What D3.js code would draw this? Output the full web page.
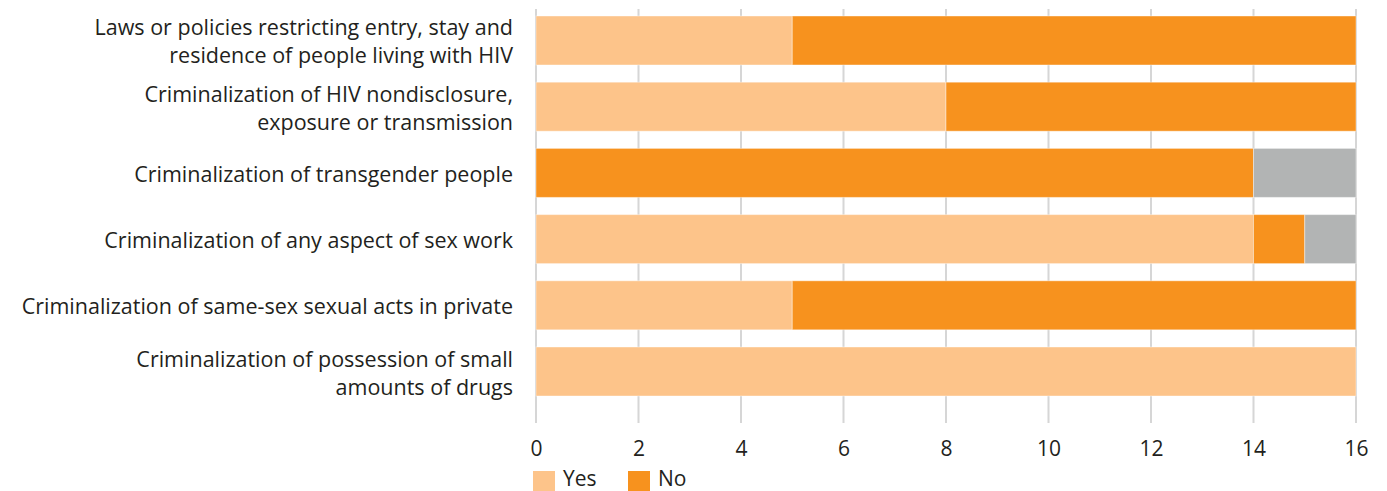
<!DOCTYPE html>
<html>
<head>
    <style>
        body { margin: 0; background: #fff; }
        text { font-family: "Open Sans", "Noto Sans", sans-serif; fill: #231f20; }
        .label { font-size: 21.5px; text-anchor: end; }
        .legend text { font-size: 21px; }
    </style>
    <script src="https://d3js.org/d3.v7.min.js"></script>
</head>
<body>
    <svg width="1387" height="491"></svg>
    <script>
        // chart data
        var categories = [
            ["Laws or policies restricting entry, stay and", "residence of people living with HIV"],
            ["Criminalization of HIV nondisclosure,", "exposure or transmission"],
            ["Criminalization of transgender people"],
            ["Criminalization of any aspect of sex work"],
            ["Criminalization of same-sex sexual acts in private"],
            ["Criminalization of possession of small", "amounts of drugs"]
        ];
        var yesValues = [5, 8, 0, 14, 5, 16];
        var noValues = [11, 8, 14, 1, 11, 0];
        var otherValues = [0, 0, 2, 1, 0, 0];
        var xTicks = [0, 2, 4, 6, 8, 10, 12, 14, 16];
        var legendLabels = ["Yes", "No"];

        var colors = ["#fdc48a", "#f7921e", "#b2b4b4"];

        var svg = d3.select("svg");

        var x = d3.scaleLinear().domain([0, 16]).range([536, 1356]);
        var y = d3.scaleBand().domain(d3.range(categories.length))
                  .range([16, 396]).paddingInner(0.26).paddingOuter(0);

        // gridlines
        svg.append("g").selectAll("line")
           .data(xTicks).enter().append("line")
           .attr("x1", d => x(d)).attr("x2", d => x(d))
           .attr("y1", 9).attr("y2", 423)
           .attr("stroke", "#d6d6d6").attr("stroke-width", 2);

        // stacked bars
        var rows = categories.map(function(c, i) {
            return {i: i, yes: yesValues[i], no: noValues[i], other: otherValues[i]};
        });
        var stack = d3.stack().keys(["yes", "no", "other"])(rows);

        svg.append("g").selectAll("g")
           .data(stack).enter().append("g")
           .attr("fill", (d, k) => colors[k])
           .selectAll("rect")
           .data(d => d.filter(s => s[1] > s[0])).enter().append("rect")
           .attr("x", d => x(d[0]))
           .attr("width", d => x(d[1]) - x(d[0]))
           .attr("y", d => y(d.data.i))
           .attr("height", y.bandwidth())
           .attr("stroke", "#fff").attr("stroke-opacity", 0.4).attr("stroke-width", 1);

        // category labels
        var lineH = 28;
        var lbl = svg.append("g").selectAll("text")
           .data(categories).enter().append("text")
           .attr("class", "label")
           .attr("x", 513)
           .attr("y", (d, i) => y(i) + y.bandwidth() / 2 - (d.length - 1) * lineH / 2)
           .attr("dominant-baseline", "central");
        lbl.selectAll("tspan").data(d => d).enter().append("tspan")
           .attr("x", 513)
           .attr("dy", (d, j) => j === 0 ? 0 : lineH)
           .text(d => d);

        // x axis
        var axis = svg.append("g")
           .attr("transform", "translate(0,428)")
           .call(d3.axisBottom(x).tickValues(xTicks).tickSize(0).tickPadding(13));
        axis.select(".domain").remove();
        axis.selectAll("text").attr("fill", "#231f20")
            .style("font-family", "'Open Sans', sans-serif").style("font-size", "21px");

        // legend
        var leg = svg.append("g").attr("class", "legend");
        var legX = [533, 628];
        legendLabels.forEach(function(name, k) {
            leg.append("rect").attr("x", legX[k]).attr("y", 471)
               .attr("width", 22).attr("height", 20).attr("fill", colors[k]);
            leg.append("text").attr("x", legX[k] + 30).attr("y", 478)
               .attr("dominant-baseline", "central").text(name);
        });
    </script>
</body>
</html>
